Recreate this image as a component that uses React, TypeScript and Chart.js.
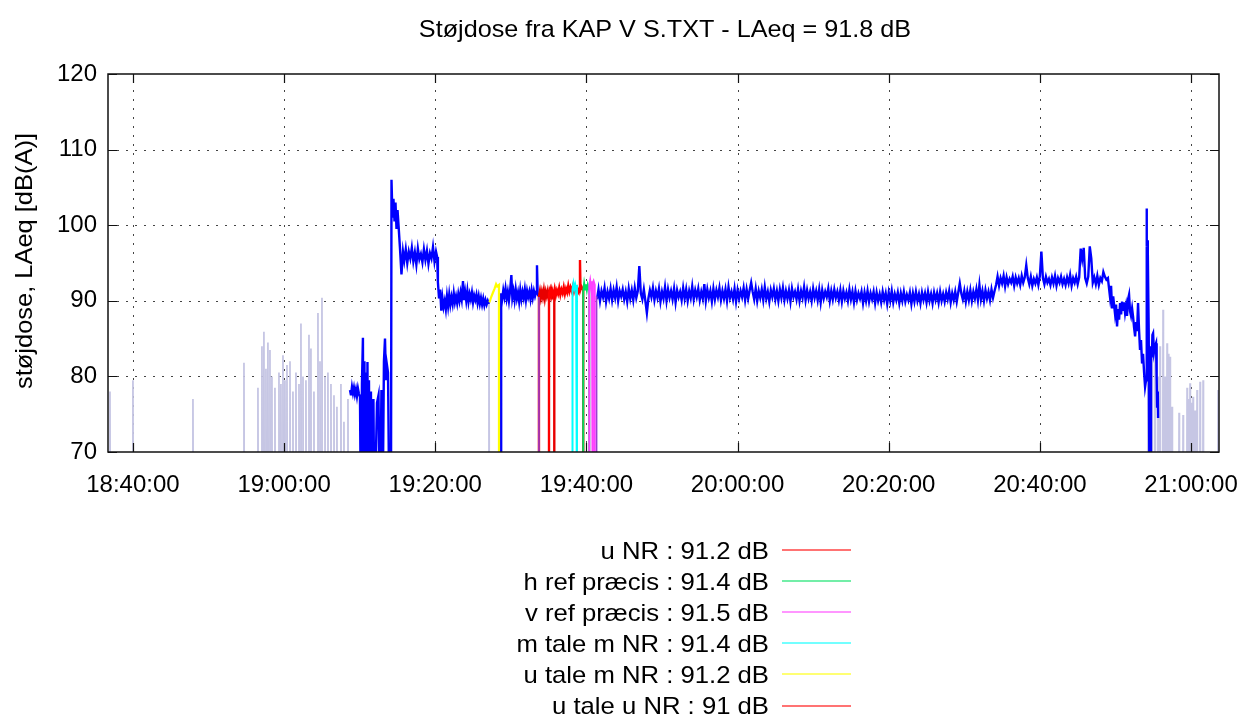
import React, { useEffect, useRef } from "react";
import { Chart, registerables } from "chart.js";

Chart.register(...registerables);

// ---------- text ----------
const TITLE = "Støjdose fra KAP V S.TXT - LAeq = 91.8 dB";
const Y_TITLE = "støjdose, LAeq [dB(A)]";

// ---------- axes (x in minutes after 18:00) ----------
const X_MIN = 36.7;
const X_MAX = 183.7;
const X_TICKS = [40, 60, 80, 100, 120, 140, 160, 180];
const Y_MIN = 70;
const Y_MAX = 120;
const Y_TICKS = [70, 80, 90, 100, 110, 120];
const FLOOR = 60; // drop-out level (below the axis)

// ---------- legend ----------
const legendLabels = [
  "u NR : 91.2 dB",
  "h ref præcis : 91.4 dB",
  "v ref præcis : 91.5 dB",
  "m tale m NR : 91.4 dB",
  "u tale m NR : 91.2 dB",
  "u tale u NR : 91 dB",
];
const legendColors = ["#ff0000", "#00e060", "#ff40ff", "#00ffff", "#ffff00", "#ff0000"];

type P = [number, number | null];

// ---------- background (all samples, light) ----------
const lavenderSpikes: [number, number][] = [
  [36.96, 78], [40.0, 79.5], [47.94, 77], [54.69, 81.8], [56.54, 78.5], [57.07, 84], [57.33, 85.9],
  [57.6, 81], [57.86, 84.5], [58.13, 83.5], [58.39, 80], [58.79, 78.5], [59.32, 80.5], [59.58, 79],
  [59.85, 82.8], [60.11, 79.5], [60.38, 81.5], [60.78, 82], [61.17, 78], [61.57, 80.5], [61.97, 79],
  [62.23, 87], [62.5, 80], [62.89, 79.5], [63.29, 85.5], [63.55, 83.7], [63.95, 78], [64.48, 88.4],
  [64.75, 82], [65.01, 90.4], [65.41, 80], [65.8, 80.5], [66.2, 79], [66.6, 77.5], [66.99, 76],
  [67.52, 79], [67.92, 74], [68.45, 77], [87.11, 89.8],
  [174.31, 84], [174.84, 85.5], [175.24, 83], [175.64, 80], [175.9, 84], [176.3, 88.8], [176.56, 80],
  [176.83, 84.4], [177.03, 83], [177.22, 82.6], [177.49, 76], [178.42, 75.2], [178.95, 74.9],
  [179.48, 78.5], [179.74, 77], [179.87, 79.1], [180.14, 76.5], [180.27, 77.3], [180.53, 75.5],
  [180.8, 78.2], [181.2, 79.3], [181.6, 79.5], [183.58, 78.2],
];

// ---------- main level (blue) ----------
const blueEarly: P[] = [
  [68.72, 78.2], [68.85, 77.5], [68.98, 78.6], [69.11, 77.8], [69.24, 78.5], [69.37, 77.6], [69.51, 78.3],
  [69.64, 77.4], [69.77, 78.4], [69.9, 77.7], [70.04, 77.3], [70.17, FLOOR], [70.3, 79.0], [70.43, 85.1],
  [70.52, FLOOR], [70.63, 82.0], [70.74, FLOOR], [70.83, 80.5], [70.94, FLOOR], [71.03, 81.9], [71.14, FLOOR],
  [71.23, 79.5], [71.36, FLOOR], [71.49, 78.0], [71.63, FLOOR], [71.82, 77.0], [71.95, FLOOR], [72.29, 76.5],
  [72.49, 77.5], [72.68, FLOOR], [72.88, 78.2], [73.02, FLOOR], [73.21, 82.0], [73.35, 85.0], [73.48, 79.5],
  [73.61, 81.5], [73.75, 80.5], [73.94, FLOOR], [74.14, FLOOR], [74.21, 106.0], [74.34, 101.0], [74.47, 103.5],
  [74.61, 100.5], [74.74, 103.0], [74.87, 99.5], [75.01, 102.0], [75.14, 100.0], [75.33, 97.0], [75.53, 93.5],
  [75.73, 96.5], [75.9, 95.3], [76.1, 96.8], [76.3, 95.0], [76.5, 96.5], [76.7, 95.6], [76.9, 97.0],
  [77.1, 95.2], [77.3, 96.4], [77.5, 94.8], [77.7, 96.9], [77.9, 95.5], [78.1, 96.2], [78.3, 95.1],
  [78.5, 96.8], [78.7, 95.4], [78.9, 96.6], [79.1, 94.9], [79.3, 96.3], [79.5, 95.6], [79.7, 97.1],
  [79.9, 95.2], [80.1, 96.5], [80.25, 95.8], [80.35, 92.5], [80.5, 90.3], [80.65, 91.5], [80.8, 88.7],
  [80.95, 90.4], [81.1, 89.2], [81.25, 90.0], [81.4, 88.9], [81.55, 90.6], [81.7, 89.3], [81.85, 90.8],
  [82.0, 89.5], [82.15, 90.5], [82.3, 89.6], [82.45, 91.0], [82.6, 89.8], [82.75, 90.6], [82.9, 89.7],
  [83.05, 90.9], [83.2, 90.0], [83.35, 91.1], [83.5, 90.2], [83.67, 92.6], [83.8, 90.1], [83.95, 91.2],
  [84.1, 90.0], [84.25, 91.3], [84.4, 89.9], [84.55, 90.9], [84.7, 90.2], [84.85, 91.1], [85.0, 89.8],
  [85.15, 90.7], [85.3, 90.1], [85.45, 90.8], [85.6, 89.7], [85.75, 90.6], [85.9, 89.6], [86.05, 90.4],
  [86.2, 89.5], [86.35, 90.3], [86.5, 89.4], [86.65, 90.1], [86.8, 89.5], [86.95, 90.0], [87.1, 89.6],
  [87.15, null],
];
const blueMid: P[] = [
  [88.7, FLOOR], [88.72, 91.0], [88.85, 90.2], [89.0, 91.4], [89.15, 90.5], [89.3, 91.6], [89.45, 90.3],
  [89.6, 91.2], [89.75, 90.0], [89.9, 91.3], [90.07, 93.4], [90.2, 90.4], [90.35, 91.3], [90.5, 90.1],
  [90.65, 91.5], [90.8, 90.3], [90.95, 91.1], [91.1, 89.9], [91.25, 91.4], [91.4, 90.2], [91.55, 91.2],
  [91.7, 90.4], [91.85, 91.5], [92.0, 90.1], [92.15, 91.3], [92.3, 90.5], [92.45, 91.2], [92.6, 90.2],
  [92.75, 91.4], [92.9, 90.4], [93.05, 91.3], [93.2, 90.6], [93.35, 91.2], [93.46, 94.7], [93.55, 91.0],
  [93.65, 90.6], [93.7, null],
];
// samples every 0.2 min from 19:41:24
const blueMainStart = 101.4;
const blueMainStep = 0.2;
const blueMainValues = [
  90.2, 91.5, 90.0, 91.3, 90.5, 91.7, 89.9, 91.2, 90.3, 91.6, 90.1, 91.4, 90.4, 91.8, 90.0, 91.3, 90.6, 91.5, 90.2, 91.2,
  89.9, 91.6, 90.3, 91.4, 90.1, 91.7, 90.4, 91.3, 94.6, 91.0, 90.2, 91.5, 90.0, 88.4, 90.3, 91.4, 90.5, 91.7, 90.1, 91.3,
  90.4, 91.6, 89.9, 91.2, 90.3, 91.8, 90.0, 91.5, 90.4, 91.3, 90.2, 91.6, 89.8, 91.4, 90.5, 91.2, 90.1, 91.7, 90.3, 91.5,
  90.0, 91.3, 90.4, 91.9, 90.2, 91.4, 90.5, 91.6, 90.1, 91.2, 90.3, 92.2, 90.0, 91.5, 90.4, 91.3, 89.9, 91.6, 90.2, 91.4,
  90.5, 91.7, 90.1, 91.3, 90.3, 91.5, 90.0, 91.8, 90.4, 91.2, 90.2, 91.6, 89.9, 91.4, 90.3, 91.3, 90.5, 91.7, 90.1, 91.5,
  90.3, 91.4, 92.4, 91.2, 90.2, 91.6, 90.0, 91.3, 90.4, 91.5, 90.1, 91.8, 90.3, 91.2, 89.9, 91.4, 90.5, 91.6, 90.2, 91.3,
  90.0, 91.5, 90.4, 91.7, 90.1, 91.3, 90.3, 91.4, 89.9, 91.6, 90.5, 91.2, 90.2, 91.5, 90.0, 91.3, 90.4, 91.8, 90.1, 91.4,
  90.3, 91.2, 90.0, 91.6, 90.4, 91.3, 90.1, 91.5, 89.8, 91.4, 90.3, 91.2, 90.5, 91.6, 90.0, 91.3, 90.2, 91.5, 90.4, 91.2,
  90.1, 91.4, 89.9, 91.3, 90.3, 91.1, 90.0, 91.5, 90.2, 91.2, 89.8, 91.3, 90.1, 91.0, 90.3, 91.2, 89.7, 91.1, 90.0, 91.3,
  89.9, 91.0, 90.2, 91.2, 89.7, 91.1, 90.0, 90.9, 89.8, 91.2, 90.1, 91.0, 89.6, 91.1, 90.0, 91.3, 89.8, 90.9, 90.1, 91.1,
  89.7, 91.0, 90.0, 91.2, 89.9, 90.8, 90.1, 91.1, 89.6, 91.0, 89.9, 91.2, 90.0, 90.9, 89.7, 91.1, 90.1, 91.0, 89.8, 91.2,
  90.0, 90.9, 89.7, 91.1, 90.1, 91.0, 89.8, 91.2, 90.0, 90.9, 89.9, 91.1, 90.2, 91.3, 89.8, 91.0, 90.1, 91.2, 89.9, 91.1,
  92.3, 91.0, 90.2, 91.3, 89.9, 91.2, 90.1, 91.4, 90.0, 91.2, 90.3, 91.5, 90.1, 92.1, 90.2, 91.3, 90.0, 91.4, 90.3, 91.2,
  90.1, 91.5, 90.4, 91.3, 92.1, 93.2, 92.0, 93.0, 92.3, 93.3, 91.9, 93.1, 92.2, 92.9, 92.4, 93.2, 92.0, 93.1, 92.3, 93.0,
  92.1, 93.3, 92.4, 93.1, 94.7, 93.0, 92.2, 93.2, 92.0, 92.9, 92.3, 93.1, 92.1, 93.3, 96.5, 93.0, 92.2, 93.2, 92.4, 92.9,
  92.1, 93.1, 92.3, 93.3, 92.0, 93.0, 92.4, 93.2, 92.2, 92.9, 92.1, 93.1, 92.3, 93.4, 92.0, 93.0, 92.4, 93.2, 92.2, 93.1,
  96.9, 95.5, 97.0, 93.0, 92.3, 93.2, 97.2, 95.6, 92.4, 93.1, 92.2, 93.3, 92.1, 93.0, 92.6, 93.8, 93.2, 92.8, 93.0,
];
const blueTail: P[] = [
  [169.28, 90.5], [169.42, 92.0], [169.55, 89.0], [169.7, 90.6], [169.94, 88.3], [170.08, 89.5],
  [170.21, 86.6], [170.35, 88.9], [170.48, 87.5], [170.61, 89.7], [170.75, 88.2], [170.87, 89.9],
  [171.0, 88.8], [171.13, 89.8], [171.27, 88.4], [171.4, 89.3], [171.53, 88.0], [171.67, 90.2],
  [171.8, 90.8], [171.93, 88.6], [172.06, 88.0], [172.2, 89.0], [172.33, 87.9], [172.46, 86.5],
  [172.6, 85.3], [172.73, 87.2], [172.86, 86.0], [172.99, 89.7], [173.12, 86.2], [173.25, 83.5],
  [173.38, 84.8], [173.52, 81.7], [173.65, 83.0], [173.79, 80.5], [173.92, 78.6], [174.05, 79.5],
  [174.12, 102.2], [174.16, 97.2], [174.2, 98.0], [174.28, 96.5], [174.4, 86.0], [174.52, FLOOR],
  [174.62, FLOOR], [174.7, 84.0], [174.8, 82.5], [174.9, 85.5], [174.98, 85.7], [175.1, 83.2],
  [175.24, 84.0], [175.37, 84.4], [175.45, 80.0], [175.51, 76.0], [175.6, 78.0], [175.64, 74.5],
];

// ---------- marked periods ----------
const yellowPts: P[] = [
  [87.17, 89.8], [87.4, 90.5], [87.6, 91.0], [87.85, 91.6], [88.05, 92.2], [88.2, 91.9], [88.43, 92.1], [88.43, FLOOR],
];
const redTaleUPts: P[] = [
  [93.72, FLOOR], [93.72, 90.6], [93.85, 91.3], [93.98, 90.4], [94.11, 91.2], [94.24, 90.5], [94.37, 91.4],
  [94.5, 90.3], [94.63, 91.2], [94.76, 90.6], [94.89, 91.3], [95.02, 90.5], [95.15, 91.2], [95.28, 90.7],
  [95.41, 91.4], [95.54, 90.6], [95.75, 91.1], [95.75, FLOOR],
];
const redNRPts: P[] = [
  [95.05, FLOOR], [95.05, 90.9], [95.2, 91.5], [95.35, 90.6], [95.5, 91.3], [95.65, 90.8], [95.8, 91.6],
  [95.95, 90.7], [96.1, 91.4], [96.25, 90.9], [96.4, 91.7], [96.55, 90.8], [96.7, 91.5], [96.85, 91.0],
  [97.0, 91.8], [97.15, 90.9], [97.3, 91.6], [97.45, 91.1], [97.6, 92.0], [97.75, 91.2], [97.9, 91.8],
  [98.05, 91.3], [98.2, 91.9], [98.35, 91.2], [98.5, 91.8], [98.65, 91.3], [98.8, 91.7], [98.95, 91.2],
  [99.1, 91.6], [99.15, 95.4], [99.22, 91.5], [99.35, 91.9], [99.58, 91.4], [99.58, FLOOR],
];
const cyanPts: P[] = [
  [98.16, FLOOR], [98.16, 91.5], [98.28, 92.3], [98.4, 91.6], [98.52, 92.2], [98.64, 91.7], [98.75, 92.1], [98.75, FLOOR],
];
const greenPts: P[] = [
  [99.58, FLOOR], [99.58, 91.3], [99.7, 92.3], [99.82, 91.5], [99.94, 92.2], [100.06, 91.4], [100.18, 92.1],
  [100.3, 91.6], [100.38, 92.0], [100.38, FLOOR],
];
const pinkPts: P[] = [
  [100.38, FLOOR], [100.38, 92.0], [100.5, 92.7], [100.62, 91.8], [100.74, 92.6], [100.82, 92.3], [100.83, FLOOR],
  [100.84, 92.3], [100.95, 92.6], [101.1, 92.1], [101.1, FLOOR],
];
const purplePts: P[] = [
  [93.72, FLOOR], [93.72, 90.5], [93.9, null], [101.35, FLOOR], [101.35, 90.6],
];

const FONT = '"Liberation Sans", Arial, Helvetica, sans-serif';
const BLUE = "#0000ff";
const LAVENDER = "#c6c6e4";
const PURPLE = "#9a3fd0";

const toXY = (pts: P[]) => pts.map(([x, y]) => ({ x, y }));

function buildDatasets() {
  const lav = lavenderSpikes.flatMap(([t, v]) => [
    { x: t - 0.04, y: FLOOR },
    { x: t, y: v },
    { x: t + 0.04, y: FLOOR },
  ]);
  const blueMain = blueMainValues.map((v, i) => ({ x: blueMainStart + i * blueMainStep, y: v }));
  const blue = [...toXY(blueEarly), ...toXY(blueMid), ...blueMain, ...toXY(blueTail)];
  const seg = (label: string, data: any[], color: string, width = 2.0) => ({
    label,
    data,
    borderColor: color,
    backgroundColor: color,
    borderWidth: width,
    pointRadius: 0,
    fill: false,
    tension: 0,
    spanGaps: false,
  });
  return [
    seg("markers", toXY(purplePts), PURPLE, 1.6),
    seg(legendLabels[2], toXY(pinkPts), legendColors[2]),
    seg(legendLabels[1], toXY(greenPts), legendColors[1]),
    seg(legendLabels[3], toXY(cyanPts), legendColors[3]),
    seg(legendLabels[0], toXY(redNRPts), legendColors[0], 2.4),
    seg(legendLabels[5], toXY(redTaleUPts), "#e80000", 2.4),
    seg(legendLabels[4], toXY(yellowPts), legendColors[4], 2.2),
    seg("LAeq", blue, BLUE, 2.4),
    seg("all", lav, LAVENDER, 1.8),
  ];
}

const fmtTime = (v: number) => {
  const total = Math.round(v);
  const h = 18 + Math.floor(total / 60);
  const m = total % 60;
  return `${h}:${String(m).padStart(2, "0")}:00`;
};

function drawStretched(
  ctx: CanvasRenderingContext2D,
  text: string,
  x: number,
  y: number,
  align: CanvasTextAlign,
  sx: number
) {
  ctx.save();
  ctx.translate(x, y);
  ctx.scale(sx, 1);
  ctx.textAlign = align;
  ctx.textBaseline = "alphabetic";
  ctx.fillText(text, 0, 0);
  ctx.restore();
}

const decorPlugin = {
  id: "gnuplotDecor",
  beforeDatasetsDraw(chart: any) {
    const { ctx, chartArea, scales } = chart;
    const { left, right, top, bottom } = chartArea;
    ctx.save();
    ctx.strokeStyle = "#444";
    ctx.lineWidth = 1;
    ctx.setLineDash([2, 7]);
    for (const v of X_TICKS) {
      const px = Math.round(scales.x.getPixelForValue(v)) + 0.5;
      ctx.beginPath();
      ctx.moveTo(px, bottom);
      ctx.lineTo(px, top);
      ctx.stroke();
    }
    for (const v of Y_TICKS) {
      if (v === Y_MIN || v === Y_MAX) continue;
      const py = Math.round(scales.y.getPixelForValue(v)) + 0.5;
      ctx.beginPath();
      ctx.moveTo(left, py);
      ctx.lineTo(right, py);
      ctx.stroke();
    }
    ctx.restore();
  },
  afterDatasetsDraw(chart: any) {
    const { ctx, chartArea, scales } = chart;
    const { left, right, top, bottom } = chartArea;
    ctx.save();
    ctx.strokeStyle = "#111";
    ctx.lineWidth = 1.5;
    ctx.setLineDash([]);
    ctx.strokeRect(left, top, right - left, bottom - top);
    const TL = 9;
    ctx.lineWidth = 1.2;
    for (const v of X_TICKS) {
      const px = Math.round(scales.x.getPixelForValue(v)) + 0.5;
      ctx.beginPath();
      ctx.moveTo(px, bottom);
      ctx.lineTo(px, bottom - TL);
      ctx.moveTo(px, top);
      ctx.lineTo(px, top + TL);
      ctx.stroke();
    }
    for (const v of Y_TICKS) {
      const py = Math.round(scales.y.getPixelForValue(v)) + 0.5;
      ctx.beginPath();
      ctx.moveTo(left, py);
      ctx.lineTo(left + TL, py);
      ctx.moveTo(right, py);
      ctx.lineTo(right - TL, py);
      ctx.stroke();
    }
    ctx.restore();
  },
  afterDraw(chart: any) {
    const { ctx, chartArea } = chart;
    ctx.save();
    ctx.fillStyle = "#000";
    ctx.font = `24px ${FONT}`;
    // title
    drawStretched(ctx, TITLE, 665, 37, "center", 1.05);
    // y title
    ctx.save();
    ctx.translate(32, (chartArea.top + chartArea.bottom) / 2 - 2);
    ctx.rotate(-Math.PI / 2);
    drawStretched(ctx, Y_TITLE, 0, 0, "center", 1.06);
    ctx.restore();
    // legend
    for (let i = 0; i < legendLabels.length; i++) {
      const yc = 550 + i * 31.1;
      ctx.fillStyle = "#000";
      drawStretched(ctx, legendLabels[i], 769, Math.round(yc + 8.5), "right", 1.07);
      ctx.strokeStyle = legendColors[i];
      ctx.globalAlpha = 0.55;
      ctx.lineWidth = 2;
      ctx.beginPath();
      ctx.moveTo(782, Math.round(yc));
      ctx.lineTo(851, Math.round(yc));
      ctx.stroke();
      ctx.globalAlpha = 1;
    }
    ctx.restore();
  },
};

export default function App() {
  const ref = useRef<HTMLCanvasElement>(null);
  useEffect(() => {
    if (!ref.current) return;
    const chart = new Chart(ref.current, {
      type: "line",
      data: { datasets: buildDatasets() as any },
      options: {
        responsive: false,
        animation: false,
        events: [],
        layout: { padding: { top: 74, right: 24, left: 0, bottom: 0 }, autoPadding: false } as any,
        plugins: {
          legend: { display: false },
          title: { display: false },
          tooltip: { enabled: false },
        },
        elements: { point: { radius: 0 }, line: { tension: 0 } },
        scales: {
          x: {
            type: "linear",
            min: X_MIN,
            max: X_MAX,
            afterBuildTicks: (s: any) => {
              s.ticks = X_TICKS.map((v) => ({ value: v }));
            },
            afterFit: (s: any) => {
              s.height = 266;
              s.paddingLeft = 0;
              s.paddingRight = 0;
            },
            grid: { display: false, drawTicks: false },
            border: { display: false },
            ticks: {
              color: "#000",
              font: { family: FONT, size: 24 },
              padding: 19,
              maxRotation: 0,
              autoSkip: false,
              callback: (v: any) => fmtTime(Number(v)),
            },
          },
          y: {
            type: "linear",
            min: Y_MIN,
            max: Y_MAX,
            afterBuildTicks: (s: any) => {
              s.ticks = Y_TICKS.map((v) => ({ value: v }));
            },
            afterFit: (s: any) => {
              s.width = 108;
              s.paddingTop = 0;
              s.paddingBottom = 0;
            },
            grid: { display: false, drawTicks: false },
            border: { display: false },
            ticks: {
              color: "#000",
              font: { family: FONT, size: 24 },
              padding: 11,
            },
          },
        },
      },
      plugins: [decorPlugin],
    });
    return () => chart.destroy();
  }, []);
  return (
    <div style={{ position: "fixed", left: 0, top: 0, width: 1243, height: 718, background: "#fff" }}>
      <canvas ref={ref} width={1243} height={718} style={{ display: "block", width: 1243, height: 718 }} />
    </div>
  );
}
